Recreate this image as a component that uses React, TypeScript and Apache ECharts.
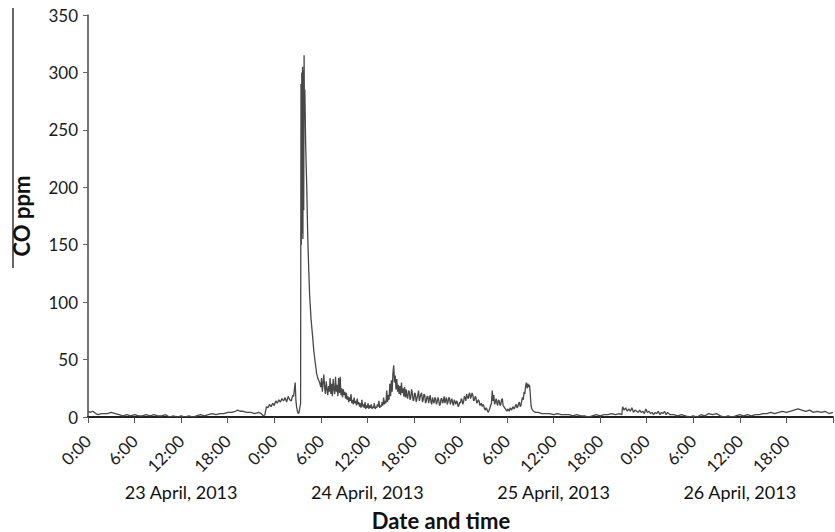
import React, { useEffect, useRef } from "react";
import * as echarts from "echarts";

// [hour since 23 April 0:00, CO ppm]
const apr23: [number, number][] = [
  [0, 5], [0.3, 4], [0.6, 5], [1, 3], [1.3, 2], [1.7, 3], [2, 3], [2.5, 3], [3, 4], [3.5, 3],
  [4, 2], [4.5, 1], [5, 2], [5.5, 1], [6, 2], [6.5, 1], [7, 1], [7.5, 2], [8, 1], [8.5, 2],
  [9, 1], [9.5, 1], [10, 2], [10.5, 0], [11, 1], [11.5, 0], [12, 1], [12.5, 0], [13, 1], [13.5, 0],
  [14, 1], [14.5, 2], [15, 1], [15.5, 2], [16, 3], [16.5, 2], [17, 3], [17.5, 3], [18, 4], [18.5, 4],
  [19, 5], [19.3, 6], [19.6, 5], [20, 5], [20.5, 4], [21, 4], [21.5, 3], [22, 4], [22.3, 3], [22.6, 1],
  [22.8, 2], [23.0, 9], [23.2, 8], [23.4, 11], [23.6, 9], [23.8, 12],
];

const apr24: [number, number][] = [
  [24.0, 10], [24.2, 14], [24.4, 12], [24.6, 15], [24.8, 13], [25.0, 16], [25.2, 14], [25.4, 17],
  [25.6, 13], [25.8, 18], [26.0, 15], [26.2, 14], [26.4, 19], [26.5, 18], [26.6, 24], [26.7, 30],
  [26.8, 14], [26.9, 8], [27.0, 5], [27.1, 3], [27.2, 4], [27.3, 8], [27.4, 12], [27.45, 290],
  [27.5, 150], [27.55, 300], [27.6, 160], [27.65, 305], [27.7, 155], [27.75, 302], [27.8, 180],
  [27.85, 315], [27.9, 260], [27.95, 285], [28.05, 238], [28.2, 198], [28.32, 157], [28.45, 128],
  [28.57, 105], [28.75, 85], [28.95, 70], [29.1, 58], [29.2, 52], [29.35, 44], [29.46, 38],
  [29.65, 33], [29.85, 30], [30.0, 26], [30.1, 34], [30.2, 22], [30.3, 30], [30.4, 37], [30.5, 25],
  [30.6, 20], [30.7, 31], [30.8, 24], [30.9, 19], [31.0, 27], [31.1, 22], [31.2, 34], [31.3, 20],
  [31.4, 29], [31.5, 18], [31.6, 33], [31.7, 24], [31.8, 20], [31.9, 35], [32.0, 22], [32.1, 28],
  [32.2, 18], [32.3, 34], [32.4, 21], [32.5, 35], [32.6, 19], [32.7, 25], [32.8, 17], [32.9, 24],
  [33.0, 19], [33.1, 22], [33.2, 16], [33.3, 21], [33.4, 15], [33.5, 18], [33.6, 13], [33.7, 17],
  [33.8, 14], [33.9, 20], [34.0, 12], [34.1, 15], [34.2, 11], [34.3, 17], [34.4, 12], [34.5, 14],
  [34.6, 10], [34.7, 16], [34.8, 11], [34.9, 13], [35.0, 9], [35.1, 12], [35.2, 8], [35.3, 15],
  [35.4, 9], [35.5, 11], [35.6, 8], [35.7, 13], [35.8, 7], [35.9, 10], [36.0, 8], [36.1, 12],
  [36.2, 7], [36.3, 10], [36.4, 8], [36.5, 11], [36.6, 7], [36.7, 9], [36.8, 8], [36.9, 12],
  [37.0, 7], [37.1, 9], [37.2, 8], [37.3, 11], [37.4, 9], [37.5, 14], [37.6, 8], [37.7, 10],
  [37.8, 9], [37.9, 13], [38.0, 10], [38.1, 17], [38.2, 11], [38.3, 14], [38.4, 12], [38.5, 23],
  [38.6, 13], [38.7, 19], [38.8, 15], [38.9, 29], [39.0, 18], [39.1, 32], [39.2, 22], [39.3, 38],
  [39.4, 45], [39.5, 30], [39.6, 36], [39.7, 24], [39.8, 33], [39.9, 22], [40.0, 28], [40.1, 20],
  [40.2, 27], [40.3, 19], [40.4, 30], [40.5, 21], [40.6, 25], [40.7, 18], [40.8, 26], [40.9, 17],
  [41.0, 24], [41.1, 18], [41.2, 16], [41.3, 23], [41.4, 22], [41.5, 15], [41.6, 17], [41.7, 24],
  [41.8, 21], [41.9, 14], [42.0, 15], [42.1, 21], [42.2, 20], [42.3, 13], [42.4, 16], [42.5, 19],
  [42.6, 23], [42.7, 14], [42.8, 17], [42.9, 20], [43.0, 21], [43.1, 13], [43.2, 15], [43.3, 20],
  [43.4, 19], [43.5, 12], [43.6, 14], [43.7, 18], [43.8, 18], [43.9, 12], [44.0, 16], [44.1, 19],
  [44.2, 13], [44.3, 11], [44.4, 17], [44.5, 14], [44.6, 12], [44.7, 17], [44.8, 16], [44.9, 11],
  [45.0, 13], [45.1, 17], [45.2, 15], [45.3, 10], [45.4, 11], [45.5, 16], [45.6, 16], [45.7, 12],
  [45.8, 14], [45.9, 18], [46.0, 12], [46.1, 15], [46.2, 17], [46.3, 11], [46.4, 13], [46.5, 17],
  [46.6, 16], [46.7, 11], [46.8, 14], [46.9, 16], [47.0, 12], [47.1, 10], [47.2, 15], [47.3, 13],
  [47.4, 11], [47.5, 14], [47.6, 13], [47.7, 9], [47.8, 10], [47.9, 13],
];

const apr25: [number, number][] = [
  [48.0, 12], [48.1, 16], [48.2, 15], [48.3, 11], [48.4, 13], [48.5, 18], [48.6, 17], [48.7, 14],
  [48.8, 20], [48.9, 17], [49.0, 16], [49.1, 20], [49.2, 21], [49.3, 16], [49.4, 18], [49.5, 21],
  [49.6, 19], [49.7, 14], [49.8, 15], [49.9, 18], [50.0, 17], [50.1, 12], [50.2, 13], [50.3, 15],
  [50.4, 14], [50.5, 10], [50.6, 11], [50.7, 12], [50.8, 9], [50.9, 11], [51.0, 10], [51.1, 7],
  [51.2, 6], [51.3, 8], [51.4, 7], [51.5, 5], [51.6, 4], [51.7, 6], [51.8, 8], [51.9, 10],
  [52.0, 12], [52.1, 23], [52.2, 14], [52.3, 19], [52.4, 11], [52.5, 13], [52.6, 16], [52.7, 12],
  [52.8, 10], [52.9, 15], [53.0, 14], [53.1, 10], [53.2, 11], [53.3, 15], [53.4, 16], [53.5, 10],
  [53.6, 9], [53.7, 8], [53.8, 7], [53.9, 6], [54.0, 5], [54.1, 7], [54.2, 6], [54.3, 5],
  [54.4, 8], [54.5, 7], [54.6, 6], [54.7, 8], [54.8, 9], [54.9, 7], [55.0, 8], [55.1, 10],
  [55.2, 11], [55.3, 8], [55.4, 9], [55.5, 12], [55.6, 13], [55.7, 9], [55.8, 10], [55.9, 14],
  [56.0, 17], [56.1, 15], [56.2, 22], [56.3, 20], [56.4, 27], [56.5, 30], [56.6, 25], [56.7, 29],
  [56.8, 26], [56.9, 28], [57.0, 20], [57.1, 10], [57.2, 7], [57.4, 5], [57.7, 4], [58.0, 4],
  [58.5, 3], [59.0, 3], [59.5, 3], [60.0, 2], [60.5, 3], [61.0, 2], [61.5, 2], [62.0, 2],
  [62.5, 1], [63.0, 2], [63.5, 1], [64.0, 1], [64.5, 0], [65.0, 1], [65.5, 2], [66.0, 1],
  [66.5, 2], [67.0, 2], [67.5, 3], [68.0, 2], [68.5, 3], [68.8, 2], [68.9, 9], [69.1, 6],
  [69.3, 8], [69.5, 5], [69.7, 7], [69.9, 5], [70.1, 8], [70.3, 4], [70.5, 6], [70.7, 5],
  [70.9, 4], [71.1, 6], [71.3, 4], [71.5, 5], [71.7, 3], [71.9, 7],
];

const apr26: [number, number][] = [
  [72.1, 4], [72.3, 5], [72.5, 3], [72.7, 4], [72.9, 2], [73.1, 4], [73.3, 3], [73.5, 5],
  [73.7, 2], [73.9, 4], [74.1, 3], [74.3, 5], [74.5, 2], [74.7, 4], [75.0, 2], [75.5, 2],
  [76.0, 1], [76.5, 2], [77.0, 1], [77.5, 0], [78.0, 1], [78.5, 0], [79.0, 2], [79.5, 1],
  [80.0, 3], [80.5, 2], [81.0, 3], [81.5, 1], [82.0, 0], [82.5, 1], [83.0, 0], [83.5, 1],
  [84.0, 2], [84.5, 1], [85.0, 2], [85.5, 1], [86.0, 2], [86.5, 2], [87.0, 3], [87.5, 3],
  [88.0, 4], [88.5, 3], [89.0, 4], [89.5, 5], [90.0, 4], [90.5, 5], [91.0, 6], [91.5, 7],
  [92.0, 6], [92.5, 5], [93.0, 6], [93.5, 4], [94.0, 5], [94.5, 4], [95.0, 5], [95.5, 3], [96.0, 4],
];

const timeLabels = ["0:00", "6:00", "12:00", "18:00"];
const dayLabels = ["23 April, 2013", "24 April, 2013", "25 April, 2013", "26 April, 2013"];
const yMax = 350;
const yStep = 50;

const FONT = "Lato, 'Open Sans', sans-serif";

export default function App() {
  const ref = useRef<HTMLDivElement>(null);

  useEffect(() => {
    if (!ref.current) return;
    const chart = echarts.init(ref.current, undefined, { renderer: "svg" });
    const data = [...apr23, ...apr24, ...apr25, ...apr26];
    chart.setOption({
      animation: false,
      backgroundColor: "#ffffff",
      textStyle: { fontFamily: FONT },
      grid: { left: 88, right: -6, top: 15, bottom: 115, containLabel: false },
      xAxis: [
        {
          type: "value",
          min: 0,
          max: 96,
          interval: 6,
          axisLine: { show: true, lineStyle: { color: "#222", width: 2 } },
          axisTick: { show: true, inside: false, length: 6, lineStyle: { color: "#555", width: 1 } },
          splitLine: { show: false },
          axisLabel: {
            rotate: 45,
            margin: 21,
            fontSize: 17,
            color: "#1a1a1a",
            fontFamily: FONT,
            formatter: (v: number) => {
              if (v >= 96) return "";
              return timeLabels[Math.round((v % 24) / 6)];
            },
          },
        },
        {
          type: "category",
          data: dayLabels,
          position: "bottom",
          offset: 66,
          boundaryGap: true,
          axisLine: { show: false },
          axisTick: { show: false },
          axisLabel: { margin: 0, fontSize: 18, color: "#111", fontFamily: FONT },
        },
      ],
      yAxis: {
        type: "value",
        min: 0,
        max: yMax,
        interval: yStep,
        name: "CO ppm",
        nameLocation: "middle",
        nameGap: 56,
        nameRotate: 90,
        nameTextStyle: { fontSize: 22, fontWeight: "bold", color: "#111", fontFamily: FONT },
        axisLine: { show: true, lineStyle: { color: "#444", width: 1.5 } },
        axisTick: { show: true, length: 5, lineStyle: { color: "#666" } },
        splitLine: { show: false },
        axisLabel: { margin: 10, fontSize: 17, color: "#1a1a1a", fontFamily: FONT },
      },
      series: [
        {
          type: "line",
          xAxisIndex: 0,
          data,
          showSymbol: false,
          symbol: "none",
          lineStyle: { color: "#484848", width: 1.3 },
          clip: true,
        },
      ],
      graphic: [
        {
          type: "line",
          shape: { x1: 13, y1: 8, x2: 13, y2: 268 },
          style: { stroke: "#000", lineWidth: 1.2 },
        },
        {
          type: "text",
          x: 441,
          y: 520,
          style: {
            text: "Date and time",
            fontSize: 22,
            fontWeight: "bold",
            fill: "#111",
            fontFamily: FONT,
            textAlign: "center",
            textVerticalAlign: "middle",
          },
        },
      ],
    });
    return () => chart.dispose();
  }, []);

  return (
    <div
      ref={ref}
      style={{ position: "fixed", left: 0, top: 0, width: 835, height: 532, background: "#fff" }}
    />
  );
}
